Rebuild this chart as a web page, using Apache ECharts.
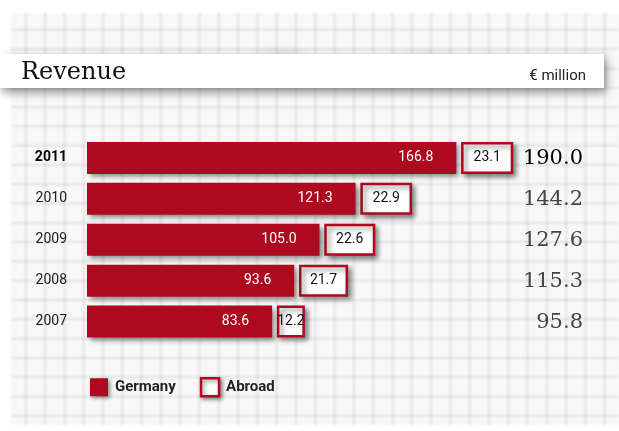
<!DOCTYPE html>
<html>
<head>
<meta charset="utf-8">
<script src="https://cdn.jsdelivr.net/npm/echarts@6/dist/echarts.min.js"></script>
<style>
  html, body { margin: 0; padding: 0; background: #ffffff; }
  #wrap { position: relative; width: 619px; height: 431px; overflow: hidden; background: #ffffff; }
  /* squared paper behind the chart */
  #paper {
    position: absolute; left: 11px; top: 13px; width: 608px; height: 412px;
    background-color: #f8f8f8;
    background-image:
      radial-gradient(ellipse 30px 14px at 272px 42px, rgba(140,140,140,0.16), rgba(140,140,140,0) 100%),
      radial-gradient(ellipse 30px 12px at 415px 44px, rgba(140,140,140,0.14), rgba(140,140,140,0) 100%),
      linear-gradient(90deg, rgba(0,0,0,0) 0, rgba(0,0,0,0) 17px, rgba(150,150,150,0.24) 17px, rgba(150,150,150,0.24) 19.3px),
      linear-gradient(180deg, rgba(0,0,0,0) 0, rgba(0,0,0,0) 17px, rgba(150,150,150,0.24) 17px, rgba(150,150,150,0.24) 19.3px);
    background-size: 100% 100%, 100% 100%, 19.3px 19.3px, 19.3px 19.3px;
    background-repeat: no-repeat, no-repeat, repeat, repeat;
    background-position: 0 0, 0 0, -3.5px 0, 0 -1.5px;
    filter: blur(0.9px);
  }
  #chart { position: absolute; left: 0; top: 0; width: 619px; height: 431px; }
</style>
</head>
<body>
<div id="wrap">
  <div id="paper"></div>
  <div id="chart"></div>
</div>
<script>
// Revenue in € million, split into Germany and abroad
const years   = ['2007', '2008', '2009', '2010', '2011'];
const germany = [83.6, 93.6, 105.0, 121.3, 166.8];
const abroad  = [12.2, 21.7, 22.6, 22.9, 23.1];
const totals  = [95.8, 115.3, 127.6, 144.2, 190.0];

const RED = '#ad0a20';
const X_MAX = 224;
const BAR_H = 32;

const chart = echarts.init(document.getElementById('chart'), null, { renderer: 'canvas' });

const abroadData = years.map((y, i) => [germany[i], abroad[i], i]);
const totalData  = years.map((y, i) => [totals[i], i]);

const option = {
  animation: false,
  backgroundColor: 'transparent',
  graphic: [{
    type: 'rect',
    z: -1,
    shape: { x: 0, y: 54, width: 604, height: 34 },
    style: {
      fill: '#ffffff',
      shadowBlur: 9,
      shadowOffsetX: 2,
      shadowOffsetY: 4,
      shadowColor: 'rgba(0,0,0,0.45)'
    }
  }],
  title: [{
    text: 'Revenue',
    left: 16,
    top: 56,
    textStyle: { fontFamily: 'DejaVu Serif', fontSize: 24, fontWeight: 'normal', color: '#111' }
  }, {
    text: '€ million',
    right: 28,
    top: 64,
    textStyle: { fontFamily: 'Roboto', fontSize: 15, fontWeight: 'normal', color: '#222' }
  }],
  legend: {
    left: 85,
    top: 372,
    itemWidth: 18,
    itemHeight: 18,
    itemGap: 24,
    selectedMode: false,
    textStyle: { fontFamily: 'Roboto', fontSize: 15, fontWeight: 'bold', color: '#222', padding: [0, 0, 0, 2] },
    data: [
      { name: 'Germany', icon: 'rect',
        itemStyle: { color: RED, shadowBlur: 4, shadowOffsetX: 2, shadowOffsetY: 2, shadowColor: 'rgba(0,0,0,0.45)' } },
      { name: 'Abroad', icon: 'rect',
        itemStyle: { color: '#ffffff', borderColor: RED, borderWidth: 2.5, shadowBlur: 4, shadowOffsetX: 2, shadowOffsetY: 2, shadowColor: 'rgba(0,0,0,0.45)' } }
    ]
  },
  grid: { left: 87, right: 36, top: 137.5, bottom: 89, containLabel: false },
  xAxis: { type: 'value', min: 0, max: X_MAX, show: false },
  yAxis: {
    type: 'category',
    data: years,
    axisLine: { show: false },
    axisTick: { show: false },
    splitLine: { show: false },
    axisLabel: {
      margin: 20,
      fontFamily: 'Roboto',
      fontSize: 14,
      color: '#1a1a1a',
      formatter: v => v === '2011' ? '{b|' + v + '}' : v,
      rich: { b: { fontFamily: 'Roboto', fontSize: 14, fontWeight: 'bold', color: '#000' } }
    }
  },
  series: [{
    name: 'Germany',
    type: 'bar',
    data: germany,
    barWidth: BAR_H,
    itemStyle: {
      color: RED,
      shadowBlur: 5,
      shadowOffsetX: 3,
      shadowOffsetY: 3,
      shadowColor: 'rgba(0,0,0,0.45)'
    },
    label: {
      show: true,
      position: 'insideRight',
      distance: 23,
      color: '#ffffff',
      fontFamily: 'Roboto',
      fontSize: 14,
      formatter: p => p.value.toFixed(1)
    }
  }, {
    name: 'Abroad',
    type: 'custom',
    data: abroadData,
    encode: { x: 0, y: 2 },
    itemStyle: { color: '#ffffff', borderColor: RED, borderWidth: 2.5 },
    renderItem: (params, api) => {
      const g = api.value(0), a = api.value(1), idx = api.value(2);
      const start = api.coord([g, idx]);
      const end = api.coord([g + a, idx]);
      const w = end[0] - start[0];
      const x = start[0] + 6;
      const y = start[1] - BAR_H / 2 + 1.25;
      const h = BAR_H - 2.5;
      return {
        type: 'group',
        children: [{
          type: 'rect',
          shape: { x: x, y: y, width: w - 1.5, height: h },
          style: {
            fill: '#ffffff',
            stroke: RED,
            lineWidth: 2.5,
            shadowBlur: 5,
            shadowOffsetX: 3,
            shadowOffsetY: 3,
            shadowColor: 'rgba(0,0,0,0.45)'
          }
        }, {
          type: 'text',
          style: {
            x: x + (w - 1.5) / 2,
            y: start[1],
            text: a.toFixed(1),
            align: 'center',
            verticalAlign: 'middle',
            fill: '#111',
            font: '14px Roboto'
          }
        }]
      };
    }
  }, {
    name: 'Total',
    type: 'custom',
    data: totalData,
    encode: { y: 1 },
    renderItem: (params, api) => {
      const t = api.value(0), idx = api.value(1);
      const p = api.coord([X_MAX, idx]);
      const latest = idx === years.length - 1;
      return {
        type: 'text',
        style: {
          x: p[0],
          y: p[1] + 1,
          text: t.toFixed(1),
          align: 'right',
          verticalAlign: 'middle',
          fill: latest ? '#000' : '#444',
          font: '21px "DejaVu Serif"'
        }
      };
    }
  }]
};

chart.setOption(option);
</script>
</body>
</html>
